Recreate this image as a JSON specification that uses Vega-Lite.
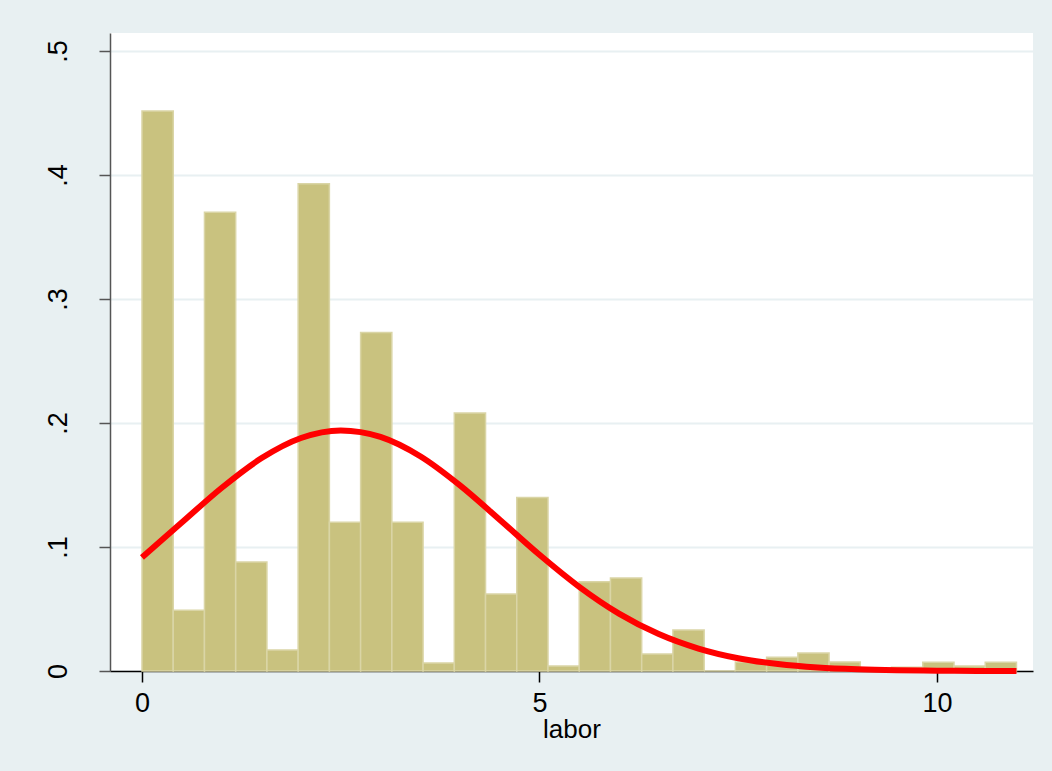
{
  "$schema": "https://vega.github.io/schema/vega-lite/v6.json",
  "autosize": {"type": "none"},
  "padding": {"left": 110, "top": 33, "right": 19, "bottom": 100},
  "width": 923,
  "height": 638,
  "background": "#E8F0F2",
  "config": {
    "view": {"fill": "#FFFFFF", "stroke": null},
    "font": "Liberation Sans"
  },
  "datasets": {
    "bars": [
      {"start": 0.0, "end": 0.392857, "density": 0.4516},
      {"start": 0.392857, "end": 0.785714, "density": 0.049},
      {"start": 0.785714, "end": 1.178571, "density": 0.370},
      {"start": 1.178571, "end": 1.571429, "density": 0.088},
      {"start": 1.571429, "end": 1.964286, "density": 0.017},
      {"start": 1.964286, "end": 2.357143, "density": 0.393},
      {"start": 2.357143, "end": 2.75, "density": 0.120},
      {"start": 2.75, "end": 3.142857, "density": 0.273},
      {"start": 3.142857, "end": 3.535714, "density": 0.120},
      {"start": 3.535714, "end": 3.928571, "density": 0.0065},
      {"start": 3.928571, "end": 4.321429, "density": 0.208},
      {"start": 4.321429, "end": 4.714286, "density": 0.062},
      {"start": 4.714286, "end": 5.107143, "density": 0.140},
      {"start": 5.107143, "end": 5.5, "density": 0.004},
      {"start": 5.5, "end": 5.892857, "density": 0.072},
      {"start": 5.892857, "end": 6.285714, "density": 0.075},
      {"start": 6.285714, "end": 6.678571, "density": 0.0137},
      {"start": 6.678571, "end": 7.071429, "density": 0.033},
      {"start": 7.071429, "end": 7.464286, "density": 0.0},
      {"start": 7.464286, "end": 7.857143, "density": 0.0073},
      {"start": 7.857143, "end": 8.25, "density": 0.011},
      {"start": 8.25, "end": 8.642857, "density": 0.0145},
      {"start": 8.642857, "end": 9.035714, "density": 0.0073},
      {"start": 9.035714, "end": 9.428571, "density": 0.002},
      {"start": 9.428571, "end": 9.821429, "density": 0.003},
      {"start": 9.821429, "end": 10.214286, "density": 0.007},
      {"start": 10.214286, "end": 10.607143, "density": 0.004},
      {"start": 10.607143, "end": 11.0, "density": 0.007}
    ],
    "curve": [
      {"labor": 0.0, "density": 0.0915},
      {"labor": 0.5, "density": 0.1197},
      {"labor": 1.0, "density": 0.1476},
      {"labor": 1.5, "density": 0.1715},
      {"labor": 2.0, "density": 0.1879},
      {"labor": 2.5, "density": 0.1940},
      {"labor": 3.0, "density": 0.1888},
      {"labor": 3.5, "density": 0.1732},
      {"labor": 4.0, "density": 0.1497},
      {"labor": 4.5, "density": 0.1220},
      {"labor": 5.0, "density": 0.0937},
      {"labor": 5.5, "density": 0.0679},
      {"labor": 6.0, "density": 0.0463},
      {"labor": 6.5, "density": 0.0298},
      {"labor": 7.0, "density": 0.0181},
      {"labor": 7.5, "density": 0.0103},
      {"labor": 8.0, "density": 0.0056},
      {"labor": 8.5, "density": 0.0028},
      {"labor": 9.0, "density": 0.00135},
      {"labor": 9.5, "density": 0.0006},
      {"labor": 10.0, "density": 0.00026},
      {"labor": 10.5, "density": 0.0001},
      {"labor": 11.0, "density": 0.00004}
    ]
  },
  "layer": [
    {
      "data": {"name": "bars"},
      "mark": {"type": "rect", "fill": "#C9C27F", "stroke": "#DAD5A6", "strokeWidth": 1.5},
      "encoding": {
        "x": {
          "field": "start", "type": "quantitative",
          "scale": {"domain": [-0.4025, 11.208], "nice": false, "zero": false},
          "axis": {
            "values": [0, 5, 10], "format": "d", "title": "labor", "grid": false,
            "domainColor": "#000000", "domainWidth": 1.5,
            "tickColor": "#000000", "tickSize": 11, "tickWidth": 1.5,
            "labelFont": "Liberation Sans", "labelFontSize": 27, "labelColor": "#000000", "labelPadding": 8,
            "titleFont": "Liberation Sans", "titleFontSize": 26, "titleFontWeight": "normal", "titleColor": "#000000", "titlePadding": 0
          }
        },
        "x2": {"field": "end"},
        "y": {
          "field": "density", "type": "quantitative",
          "scale": {"domain": [0, 0.5145], "nice": false},
          "axis": {
            "values": [0, 0.1, 0.2, 0.3, 0.4, 0.5], "title": null,
            "labelExpr": "datum.value == 0 ? '0' : replace(format(datum.value, '.1f'), '0.', '.')",
            "grid": true, "gridColor": "#E8F0F2", "gridWidth": 2,
            "domainColor": "#555555", "domainWidth": 1.5,
            "tickColor": "#555555", "tickSize": 11, "tickWidth": 1.5,
            "labelAngle": -90, "labelAlign": "center", "labelBaseline": "bottom",
            "labelFont": "Liberation Sans", "labelFontSize": 27, "labelColor": "#000000", "labelPadding": 27
          }
        },
        "y2": {"datum": 0}
      }
    },
    {
      "data": {"name": "curve"},
      "mark": {"type": "line", "color": "#FF0000", "strokeWidth": 6, "interpolate": "monotone"},
      "encoding": {
        "x": {"field": "labor", "type": "quantitative"},
        "y": {"field": "density", "type": "quantitative"}
      }
    }
  ]
}
